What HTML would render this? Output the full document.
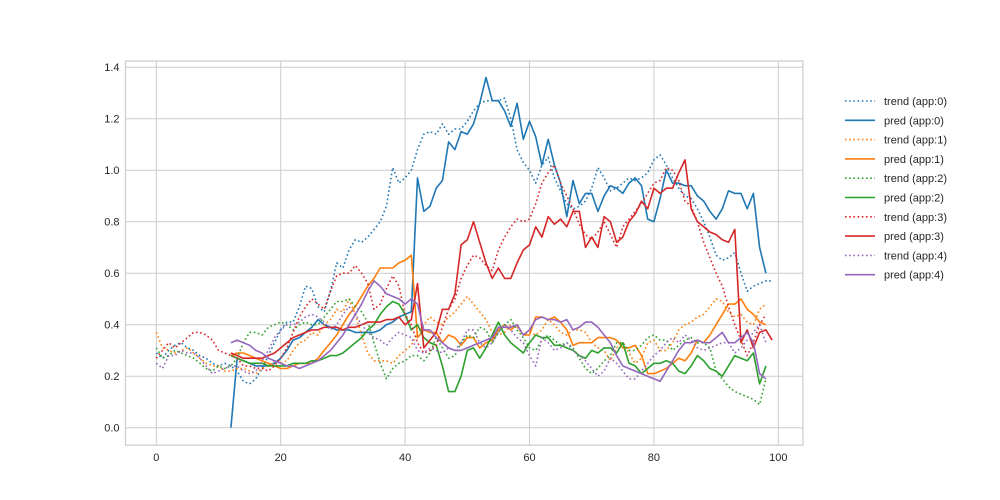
<!DOCTYPE html>
<html><head><meta charset="utf-8"><style>
html,body{margin:0;padding:0;background:#fff}
svg{display:block;font-family:"Liberation Sans",sans-serif}
</style></head><body>
<svg id="chart" width="1000" height="500">
<g id="grid"></g>
<g id="series"></g>
<g id="axes"></g>
<g id="legend"></g>
</svg>
<script>
const xTicks=[0,20,40,60,80,100];
const yTicks=[0.0,0.2,0.4,0.6,0.8,1.0,1.2,1.4];
const seriesNames=["trend (app:0)","pred (app:0)","trend (app:1)","pred (app:1)","trend (app:2)","pred (app:2)","trend (app:3)","pred (app:3)","trend (app:4)","pred (app:4)"];
const seriesColors=["#1f77b4","#1f77b4","#ff7f0e","#ff7f0e","#2ca02c","#2ca02c","#d62728","#d62728","#9467bd","#9467bd"];
const seriesStart=[0,12,0,12,0,12,0,12,0,12];
const trend0=[0.29,0.27,0.30,0.32,0.33,0.31,0.30,0.28,0.27,0.25,0.24,0.25,0.24,0.22,0.18,0.17,0.19,0.23,0.28,0.33,0.38,0.41,0.41,0.47,0.55,0.54,0.47,0.45,0.53,0.64,0.62,0.69,0.73,0.72,0.74,0.77,0.80,0.86,1.01,0.95,0.97,1.00,1.08,1.14,1.15,1.14,1.18,1.14,1.16,1.16,1.19,1.23,1.26,1.27,1.27,1.27,1.28,1.20,1.08,1.03,1.00,0.95,1.02,1.05,0.97,0.92,0.87,0.85,0.86,0.88,0.93,1.01,0.97,0.92,0.93,0.95,0.97,0.96,0.97,0.99,1.04,1.06,1.02,0.97,0.93,0.90,0.89,0.85,0.80,0.74,0.67,0.65,0.66,0.68,0.60,0.53,0.55,0.56,0.57,0.57];
const pred0=[0.00,0.27,0.26,0.25,0.24,0.24,0.24,0.25,0.27,0.30,0.34,0.35,0.37,0.39,0.42,0.40,0.39,0.38,0.38,0.38,0.37,0.37,0.37,0.37,0.38,0.40,0.41,0.43,0.44,0.45,0.97,0.84,0.86,0.93,0.96,1.11,1.08,1.15,1.14,1.18,1.26,1.36,1.27,1.27,1.23,1.17,1.26,1.12,1.19,1.13,1.02,1.12,1.02,0.95,0.82,0.96,0.87,0.91,0.91,0.84,0.90,0.94,0.93,0.91,0.95,0.97,0.94,0.81,0.80,0.89,1.00,0.95,0.95,0.94,0.94,0.90,0.88,0.84,0.81,0.85,0.92,0.91,0.91,0.85,0.91,0.70,0.60];
const trend1=[0.37,0.31,0.30,0.29,0.30,0.31,0.29,0.27,0.25,0.24,0.24,0.22,0.22,0.23,0.23,0.22,0.21,0.23,0.24,0.26,0.25,0.26,0.30,0.33,0.34,0.37,0.36,0.40,0.42,0.46,0.45,0.50,0.44,0.36,0.29,0.26,0.26,0.26,0.25,0.28,0.30,0.32,0.37,0.40,0.43,0.41,0.40,0.43,0.45,0.48,0.51,0.48,0.45,0.42,0.37,0.36,0.37,0.40,0.39,0.36,0.37,0.36,0.38,0.42,0.40,0.37,0.36,0.38,0.38,0.37,0.33,0.31,0.30,0.26,0.31,0.33,0.29,0.25,0.27,0.33,0.34,0.30,0.30,0.33,0.38,0.40,0.41,0.43,0.44,0.47,0.50,0.49,0.45,0.43,0.44,0.41,0.40,0.46,0.48];
const pred1=[0.28,0.29,0.29,0.28,0.27,0.26,0.25,0.24,0.23,0.23,0.24,0.25,0.25,0.25,0.27,0.30,0.33,0.36,0.40,0.44,0.47,0.51,0.55,0.58,0.62,0.62,0.62,0.64,0.65,0.67,0.35,0.38,0.37,0.37,0.33,0.36,0.35,0.32,0.35,0.35,0.31,0.33,0.34,0.38,0.40,0.38,0.40,0.36,0.36,0.43,0.43,0.42,0.43,0.41,0.38,0.32,0.33,0.33,0.33,0.35,0.35,0.35,0.34,0.31,0.31,0.32,0.28,0.21,0.21,0.22,0.23,0.25,0.27,0.26,0.29,0.34,0.33,0.36,0.40,0.44,0.48,0.48,0.50,0.46,0.44,0.41,0.40];
const trend2=[0.31,0.27,0.28,0.30,0.29,0.28,0.27,0.25,0.23,0.22,0.24,0.23,0.24,0.27,0.33,0.37,0.37,0.36,0.39,0.40,0.41,0.40,0.38,0.40,0.41,0.40,0.40,0.43,0.46,0.49,0.49,0.50,0.47,0.45,0.41,0.33,0.25,0.19,0.23,0.25,0.26,0.28,0.28,0.26,0.29,0.35,0.31,0.27,0.28,0.33,0.36,0.35,0.39,0.38,0.33,0.37,0.40,0.42,0.38,0.35,0.31,0.30,0.34,0.36,0.34,0.32,0.33,0.31,0.27,0.23,0.21,0.23,0.26,0.28,0.33,0.33,0.30,0.30,0.32,0.35,0.36,0.34,0.34,0.30,0.32,0.34,0.35,0.33,0.33,0.31,0.22,0.19,0.16,0.14,0.13,0.12,0.11,0.09,0.19];
const pred2=[0.28,0.27,0.26,0.25,0.25,0.25,0.24,0.24,0.24,0.24,0.25,0.25,0.25,0.26,0.26,0.27,0.28,0.28,0.29,0.31,0.33,0.35,0.38,0.40,0.44,0.47,0.49,0.48,0.44,0.38,0.40,0.35,0.33,0.32,0.24,0.14,0.14,0.20,0.30,0.31,0.27,0.31,0.36,0.41,0.36,0.33,0.31,0.29,0.33,0.36,0.35,0.35,0.32,0.32,0.31,0.30,0.28,0.27,0.30,0.29,0.31,0.31,0.29,0.33,0.25,0.24,0.21,0.23,0.25,0.25,0.26,0.25,0.22,0.21,0.24,0.28,0.26,0.23,0.22,0.20,0.24,0.28,0.27,0.26,0.29,0.17,0.24];
const trend3=[0.27,0.30,0.33,0.31,0.33,0.35,0.37,0.37,0.36,0.34,0.30,0.29,0.28,0.27,0.24,0.24,0.23,0.23,0.22,0.24,0.27,0.31,0.37,0.43,0.47,0.50,0.48,0.46,0.53,0.59,0.60,0.60,0.63,0.60,0.56,0.46,0.48,0.54,0.59,0.55,0.44,0.40,0.33,0.29,0.30,0.32,0.39,0.46,0.50,0.58,0.63,0.67,0.66,0.63,0.61,0.69,0.74,0.78,0.81,0.80,0.81,0.87,0.95,0.99,1.02,0.95,0.90,0.85,0.79,0.75,0.73,0.76,0.80,0.75,0.70,0.78,0.81,0.84,0.87,0.91,0.95,0.96,1.01,1.00,0.96,0.88,0.86,0.80,0.72,0.66,0.60,0.55,0.47,0.40,0.34,0.28,0.33,0.40,0.44];
const pred3=[0.29,0.28,0.27,0.27,0.27,0.27,0.28,0.29,0.31,0.33,0.35,0.36,0.37,0.38,0.38,0.39,0.39,0.39,0.38,0.39,0.39,0.40,0.41,0.41,0.41,0.42,0.42,0.43,0.40,0.42,0.56,0.31,0.34,0.37,0.46,0.46,0.52,0.71,0.73,0.80,0.72,0.64,0.58,0.62,0.58,0.58,0.64,0.69,0.71,0.78,0.74,0.82,0.79,0.81,0.78,0.84,0.84,0.70,0.74,0.70,0.82,0.80,0.72,0.74,0.80,0.83,0.88,0.85,0.93,0.91,0.93,0.93,0.99,1.04,0.85,0.80,0.78,0.76,0.75,0.73,0.72,0.77,0.33,0.38,0.31,0.37,0.38,0.34];
const trend4=[0.25,0.23,0.28,0.28,0.30,0.29,0.29,0.27,0.24,0.21,0.22,0.23,0.24,0.24,0.22,0.21,0.22,0.26,0.30,0.35,0.38,0.40,0.40,0.41,0.43,0.44,0.43,0.41,0.38,0.40,0.44,0.47,0.44,0.40,0.37,0.35,0.34,0.32,0.35,0.37,0.36,0.35,0.30,0.29,0.31,0.30,0.29,0.31,0.30,0.33,0.38,0.38,0.33,0.31,0.33,0.37,0.40,0.38,0.35,0.33,0.28,0.24,0.35,0.33,0.30,0.31,0.33,0.30,0.28,0.26,0.23,0.20,0.22,0.27,0.25,0.22,0.19,0.19,0.22,0.25,0.28,0.30,0.33,0.35,0.33,0.36,0.34,0.31,0.30,0.31,0.32,0.33,0.33,0.29,0.31,0.34,0.37,0.40,0.33];
const pred4=[0.33,0.34,0.33,0.32,0.30,0.29,0.27,0.26,0.25,0.24,0.24,0.23,0.24,0.25,0.26,0.28,0.30,0.33,0.36,0.40,0.44,0.48,0.53,0.57,0.55,0.52,0.51,0.50,0.48,0.50,0.48,0.38,0.38,0.35,0.33,0.31,0.30,0.30,0.31,0.32,0.33,0.34,0.35,0.39,0.39,0.39,0.40,0.36,0.38,0.42,0.43,0.42,0.42,0.41,0.42,0.38,0.39,0.41,0.41,0.39,0.36,0.33,0.28,0.24,0.23,0.22,0.21,0.20,0.19,0.18,0.22,0.26,0.30,0.33,0.33,0.34,0.33,0.33,0.35,0.37,0.33,0.33,0.35,0.37,0.33,0.21,0.19];
const seriesValues=[trend0,pred0,trend1,pred1,trend2,pred2,trend3,pred3,trend4,pred4];

const NS="http://www.w3.org/2000/svg";
const L=125.5,R=802.9,T=61,B=445.2;
const X0=156.3,XS=6.22,Y0=427.7,YS=257.5;
function xs(v){return X0+v*XS;}
function ys(v){return Y0-v*YS;}
function mk(tag,attrs,parent){const e=document.createElementNS(NS,tag);for(const k in attrs)e.setAttribute(k,attrs[k]);parent.appendChild(e);return e;}
const grid=document.getElementById('grid'),axes=document.getElementById('axes'),ser=document.getElementById('series'),leg=document.getElementById('legend');

xTicks.forEach(t=>{
  const g=mk('line',{x1:xs(t),x2:xs(t),y1:T,y2:B,stroke:'#cccccc','stroke-width':1},grid);
  
  
  const lb=mk('text',{x:xs(t),y:B+16,'text-anchor':'middle','font-size':11,fill:'#262626'},axes);
  lb.textContent=String(t);
  
  
});
yTicks.forEach(t=>{
  const g=mk('line',{x1:L,x2:R,y1:ys(t),y2:ys(t),stroke:'#cccccc','stroke-width':1},grid);
  
  
  const lb=mk('text',{x:L-6,y:ys(t)+4,'text-anchor':'end','font-size':11,fill:'#262626'},axes);
  lb.textContent=t.toFixed(1);
  
  
});
const fr=mk('rect',{x:L,y:T,width:R-L,height:B-T,fill:'none',stroke:'#cccccc','stroke-width':1.2},axes);



seriesValues.forEach((vals,i)=>{
  const pts=vals.map((v,j)=>xs(seriesStart[i]+j).toFixed(1)+','+ys(v).toFixed(1)).join(' ');
  const dotted=seriesNames[i].startsWith('trend');
  const attrs={points:pts,fill:'none',stroke:seriesColors[i],'stroke-width':1.6,'stroke-linejoin':'round'};
  if(dotted){attrs['stroke-dasharray']='1.6 2.6';}
  const p=mk('polyline',attrs,ser);
  
  
});

seriesNames.forEach((n,i)=>{
  const y=101+i*19.3;
  const g=mk('g',{},leg);
  
  
  const a={x1:845,x2:875,y1:y,y2:y,stroke:seriesColors[i],'stroke-width':1.6};
  if(n.startsWith('trend'))a['stroke-dasharray']='1.6 2.6';
  mk('line',a,g);
  const t=mk('text',{x:884,y:y+4,'font-size':11,fill:'#262626'},g);
  t.textContent=n;
});
</script>
</body></html>
